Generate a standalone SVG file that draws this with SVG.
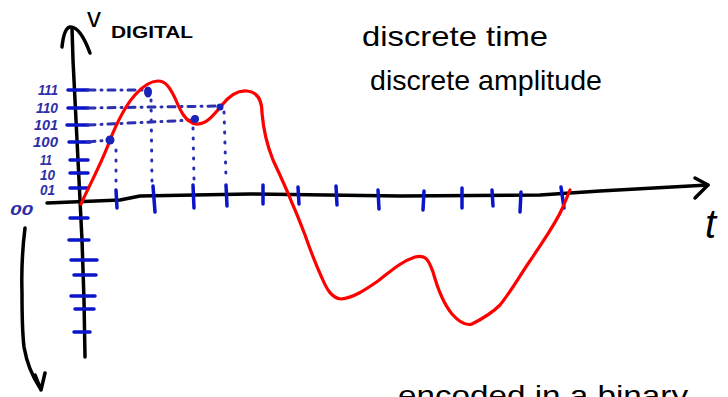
<svg xmlns="http://www.w3.org/2000/svg" width="728" height="397" viewBox="0 0 728 397">
<style>
.ax{fill:none;stroke:#000;stroke-width:3.5;stroke-linecap:round;stroke-linejoin:round}
.tk{fill:none;stroke:#0a14c8;stroke-width:3.5;stroke-linecap:round}
.dh{fill:none;stroke:#2b2fb0;stroke-width:3;stroke-linecap:round;stroke-dasharray:7 6 1 6}
.dv{fill:none;stroke:#2b2fb0;stroke-width:3;stroke-linecap:round;stroke-dasharray:1 9}
.sig{fill:none;stroke:#ff0000;stroke-width:3.2;stroke-linecap:round;stroke-linejoin:round}
.lb{font-family:"Liberation Sans",Arial,sans-serif;font-style:italic;font-weight:bold;fill:#2e2ea6;font-size:14px}
.hw{font-family:"Liberation Sans",Arial,sans-serif;fill:#000}
</style>
<rect width="728" height="397" fill="#fff"/>
<g id="connectors">
<path id="y-axis" class="ax" d="M85,357 L84,300 L82,240 L80,200 L76,120 L73,60 L72,28"/>
<path id="y-arrow" class="ax" d="M62,47 Q64,28 70,27 Q80,26 90,53"/>
<path id="x-axis" class="ax" d="M47,203 L120,200 L140,196 L250,194 L400,196 L540,195 L600,191 L708,185"/>
<path id="x-arrow" class="ax" d="M695,178 L708,185 L695,198"/>
<path id="down-arrow" class="ax" d="M25,228 Q21,260 22,293 Q22,330 24,347 Q28,370 40,388 M35,375 L41,390 L45,373"/>
</g>
<g id="y-ticks">
<path class="tk" d="M68,90 L88,90 M68,108 L88,108 M67,125 L88,125 M69,142 L90,142 M70,160 L88,160 M70,173 L88,173 M70,188 L88,188 M70,218 L88,218 M69,240 L89,240 M71,260 L97,260 M74,275 L96,275 M71,296 L95,296 M75,309 L94,309 M74,332 L90,332"/>
</g>
<g id="x-ticks">
<path class="tk" d="M116,190 L117,208 M153,186 L155,212 M193,185 L194,208 M226,185 L227,206 M263,185 L263,204 M298,187 L299,204 M336,186 L337,205 M378,190 L379,209 M424,191 L423,210 M462,188 L462,208 M492,190 L493,206 M521,192 L520,212 M561,187 L564,208"/>
</g>
<g id="guides">
<path class="dh" d="M88,90 L147,90"/>
<path class="dh" d="M88,108 L220,106"/>
<path class="dh" d="M88,125 L194,120"/>
<path class="dh" d="M88,142 L110,140"/>
<path class="dv" d="M116,150 L116,185"/>
<path class="dv" d="M151,100 L152,183"/>
<path class="dv" d="M193,128 L194,180"/>
<path class="dv" d="M224,112 L226,178"/>
</g>
<g id="signal">
<path class="sig" d="M81,204 C92,180 103,160 110,140 C118,120 126,105 135,95 C143,86 150,81 158,81 C166,81 170,88 175,98 C180,110 185,122 196,124 C206,125 213,116 222,105 C230,95 238,90 247,91 C258,92 262,100 262,113 C263,125 265,140 273,160 C280,175 287,190 292,203 C297,214 300,222 305,235 C311,252 316,265 322,278 C327,290 332,298 341,299 C353,298 365,290 378,281 C390,272 400,262 415,257 C427,254 429,262 433,272 C438,290 443,303 452,314 C460,323 466,326 472,324 C480,320 490,315 500,305 C512,290 520,275 532,258 C545,238 555,225 563,207 L570,190"/>
</g>
<g id="samples" fill="#1a22b8">
<ellipse cx="110" cy="140" rx="4.5" ry="4.5"/>
<ellipse cx="148" cy="92" rx="4" ry="5.5"/>
<ellipse cx="195" cy="119" rx="4" ry="4"/>
<ellipse cx="220" cy="107" rx="3.5" ry="3.5"/>
</g>
<g id="y-labels">
<text class="lb" x="38" y="95" textLength="20" lengthAdjust="spacingAndGlyphs">111</text>
<text class="lb" x="36" y="113" textLength="22" lengthAdjust="spacingAndGlyphs">110</text>
<text class="lb" x="34" y="130" textLength="24" lengthAdjust="spacingAndGlyphs">101</text>
<text class="lb" x="33" y="147" textLength="25" lengthAdjust="spacingAndGlyphs">100</text>
<text class="lb" x="40" y="165" font-size="11" textLength="12" lengthAdjust="spacingAndGlyphs">11</text>
<text class="lb" x="40" y="180" font-size="12" textLength="15" lengthAdjust="spacingAndGlyphs">10</text>
<text class="lb" x="40" y="195" font-size="13" textLength="15" lengthAdjust="spacingAndGlyphs">01</text>
<text class="lb" x="10" y="215" font-size="17" textLength="23" lengthAdjust="spacingAndGlyphs">00</text>
</g>
<g id="axis-labels">
<text class="hw" x="87" y="27" font-size="28">v</text>
<text class="hw" x="111" y="38" font-size="17" font-weight="bold" textLength="82" lengthAdjust="spacingAndGlyphs">DIGITAL</text>
<text class="hw" x="705" y="238" font-size="40" font-style="italic">t</text>
</g>
<g id="notes">
<text class="hw" x="362" y="46" font-size="28" textLength="186" lengthAdjust="spacingAndGlyphs">discrete time</text>
<text class="hw" x="370" y="90" font-size="28" textLength="232" lengthAdjust="spacingAndGlyphs">discrete amplitude</text>
<text class="hw" x="398" y="405" font-size="28" textLength="290" lengthAdjust="spacingAndGlyphs">encoded in a binary</text>
</g>
</svg>
